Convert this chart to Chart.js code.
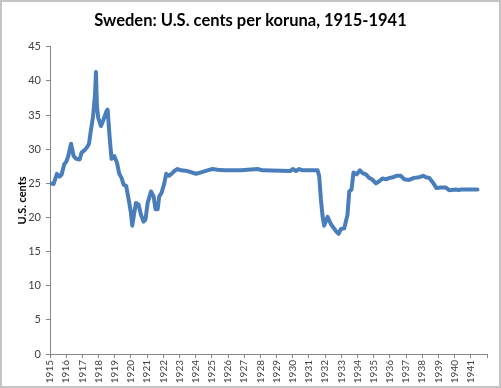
<!DOCTYPE html>
<html>
<head>
<meta charset="utf-8">
<script src="https://cdn.jsdelivr.net/npm/chart.js@4"></script>
<style>
  html, body { margin: 0; padding: 0; background: #fff; }
  #wrap { position: relative; width: 501px; height: 388px; }
  #frame { position: absolute; left: 0; top: 0; width: 501px; height: 388px;
           box-sizing: border-box; border: 2px solid #c4c4c4; pointer-events: none; }
</style>
</head>
<body>
<div id="wrap">
  <canvas id="chart"></canvas>
  <div id="frame"></div>
</div>
<script>
// monthly-ish readings, decimal year
const years = [
  1915.06, 1915.22, 1915.43, 1915.59, 1915.72, 1915.88, 1916.01, 1916.13, 1916.30, 1916.46,
  1916.62, 1916.83, 1916.95, 1917.16, 1917.29, 1917.41, 1917.53, 1917.66, 1917.78, 1917.84,
  1917.90, 1917.98, 1918.15, 1918.27, 1918.48, 1918.56, 1918.68, 1918.80, 1918.97, 1919.14,
  1919.28, 1919.42, 1919.55, 1919.71, 1919.84, 1920.00, 1920.08, 1920.21, 1920.31, 1920.47,
  1920.62, 1920.78, 1920.90, 1921.03, 1921.24, 1921.40, 1921.52, 1921.65, 1921.75, 1921.89,
  1922.06, 1922.18, 1922.35, 1922.47, 1922.68, 1922.88, 1923.09, 1923.50, 1924.02, 1924.33,
  1924.73, 1925.04, 1925.35, 1925.77, 1926.80, 1927.82, 1928.13, 1929.85, 1930.00, 1930.20,
  1930.40, 1930.60, 1931.53, 1931.63, 1931.74, 1931.84, 1931.94, 1932.15, 1932.36, 1932.67,
  1932.83, 1932.97, 1933.18, 1933.38, 1933.49, 1933.63, 1933.75, 1933.94, 1934.15, 1934.31,
  1934.52, 1934.72, 1934.89, 1935.14, 1935.34, 1935.54, 1935.75, 1936.00, 1936.20, 1936.41,
  1936.68, 1936.88, 1937.19, 1937.50, 1937.81, 1938.06, 1938.22, 1938.43, 1938.63, 1938.88,
  1939.15, 1939.46, 1939.66, 1940.08, 1940.24, 1940.39, 1941.41
];
const cents = [
  25.0, 24.9, 26.4, 26.0, 26.3, 27.8, 28.2, 29.0, 30.8, 29.0,
  28.6, 28.5, 29.5, 29.9, 30.3, 30.8, 32.8, 34.8, 38.0, 41.3,
  36.3, 34.6, 33.4, 34.1, 35.5, 35.8, 31.9, 28.6, 29.0, 28.0,
  26.4, 25.8, 24.8, 24.6, 22.9, 20.7, 18.8, 20.7, 22.1, 21.9,
  20.4, 19.4, 19.7, 22.1, 23.8, 23.1, 21.2, 21.2, 23.1, 23.6,
  25.0, 26.4, 26.1, 26.3, 26.8, 27.1, 26.9, 26.8, 26.4, 26.6,
  26.9, 27.1, 27.0, 26.9, 26.9, 27.1, 26.9, 26.8, 27.1, 26.8,
  27.1, 26.9, 26.9, 26.1, 22.6, 20.2, 18.8, 20.1, 19.0, 18.0,
  17.6, 18.3, 18.4, 20.4, 23.8, 24.1, 26.6, 26.3, 26.9, 26.5,
  26.3, 25.8, 25.6, 25.0, 25.3, 25.7, 25.6, 25.8, 25.9, 26.1,
  26.1, 25.6, 25.5, 25.8, 25.9, 26.1, 25.9, 25.8, 25.2, 24.3,
  24.4, 24.4, 24.0, 24.1, 24.0, 24.1, 24.1
];
const yearMin = 1915;
const yearMax = 1942;
const yMax = 45;

const axisGray = '#868686';
const font = 'Lato, "Liberation Sans", sans-serif';

new Chart(document.getElementById('chart'), {
  type: 'line',
  data: {
    datasets: [{
      label: 'U.S. cents per koruna',
      data: years.map((x, i) => ({ x: x, y: cents[i] })),
      borderColor: '#4a7ebb',
      borderWidth: 4,
      pointRadius: 0,
      tension: 0,
      borderJoinStyle: 'round',
      borderCapStyle: 'round',
      fill: false
    }]
  },
  options: {
    responsive: true,
    maintainAspectRatio: false,
    animation: false,
    layout: { padding: 0 },
    plugins: {
      legend: { display: false },
      tooltip: { enabled: false },
      title: {
        display: true,
        text: 'Sweden: U.S. cents per koruna, 1915-1941',
        color: '#000',
        font: { family: font, size: 16.5, weight: 'bold' },
        padding: { top: 11, bottom: 16 }
      }
    },
    scales: {
      x: {
        type: 'linear',
        min: yearMin,
        max: yearMax,
        afterFit: s => { s.height = 34; },
        border: { color: axisGray, width: 1 },
        grid: { display: true, drawOnChartArea: false, drawTicks: true, tickLength: 4, color: axisGray },
        ticks: {
          stepSize: 1,
          autoSkip: false,
          minRotation: 90,
          maxRotation: 90,
          padding: 2,
          color: '#404040',
          font: { family: font, size: 10 },
          callback: v => (v === yearMax ? '' : String(v))
        }
      },
      y: {
        min: 0,
        max: yMax,
        afterFit: s => { s.width = 50; },
        border: { color: axisGray, width: 1 },
        grid: { display: true, drawOnChartArea: false, drawTicks: true, tickLength: 4, color: axisGray },
        ticks: {
          stepSize: 5,
          padding: 5,
          color: '#404040',
          font: { family: font, size: 11 }
        },
        title: {
          display: true,
          text: 'U.S. cents',
          color: '#000',
          font: { family: font, size: 11, weight: 'bold' },
          padding: { top: 16, bottom: 0 }
        }
      },
      // empty strip on the right so the title stays centred on the page
      gap: {
        position: 'right',
        display: true,
        afterFit: s => { s.width = 14; },
        grid: { display: false },
        border: { display: false },
        ticks: { display: false }
      }
    }
  }
});
</script>
</body>
</html>
